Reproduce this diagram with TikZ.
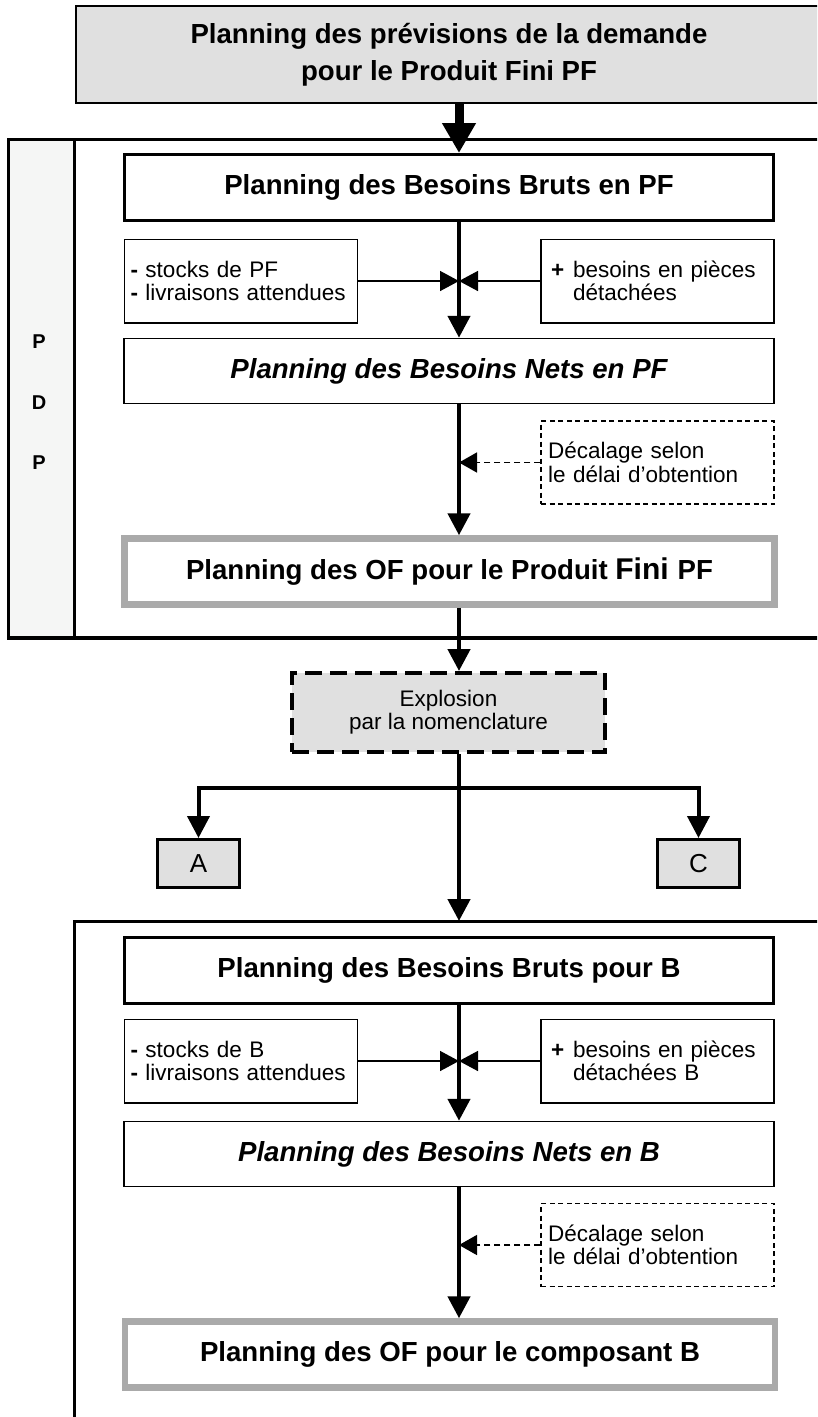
\documentclass[tikz,border=0pt]{standalone}
\usepackage{fontspec}
\setmainfont{Liberation Sans}
\usetikzlibrary{arrows.meta}
\definecolor{boxgray}{HTML}{E0E0E0}
\definecolor{ofgray}{HTML}{AAAAAA}
\definecolor{stripgray}{HTML}{F5F6F5}
\newcommand{\headfont}{\fontsize{27.6}{33}\selectfont\bfseries}
\newcommand{\notefont}{\fontsize{22.5}{23.5}\selectfont}

\begin{document}
\begin{tikzpicture}[x=1pt,y=-1pt,
  stagebox/.style={draw, line width=3pt, minimum width=649pt, minimum height=66pt,
    inner sep=0pt, font=\headfont},
  netbox/.style={draw, line width=1.5pt, minimum width=650pt, minimum height=65pt,
    inner sep=0pt, font=\headfont\itshape},
  ofbox/.style={draw=ofgray, line width=6.5pt, minimum width=650pt, minimum height=66pt,
    inner sep=0pt, font=\headfont},
  notebox/.style={draw, line width=1.5pt, minimum height=83.5pt, align=left,
    font=\notefont, inner ysep=0pt},
  delaybox/.style={draw, line width=1.5pt, dash pattern=on 5pt off 3.5pt,
    minimum height=83pt, align=left, font=\notefont, inner ysep=0pt,
    inner xsep=7pt, text width=219pt},
  letterbox/.style={draw, line width=3pt, fill=boxgray, minimum width=82pt,
    minimum height=48pt, inner sep=0pt, font=\fontsize{26}{26}\selectfont},
  flow/.style={line width=4.5pt, -{Triangle[length=22pt,width=22pt]}},
  bigflow/.style={line width=9pt, -{Triangle[length=30pt,width=32pt]}},
  side/.style={line width=1.5pt, -{Triangle[length=19pt,width=20pt]}},
  dside/.style={line width=1.5pt, dash pattern=on 6pt off 4pt,
    -{Triangle[length=18pt,width=20pt]}},
]
\useasboundingbox (0,0) rectangle (817,1417);
\clip (0,0) rectangle (817,1417);

% main vertical axis of the flow
\coordinate (spine) at (459,0);

% demand forecast
\node[draw, line width=2pt, fill=boxgray, minimum width=746pt, minimum height=97pt,
  inner sep=0pt, align=center, font=\fontsize{27.6}{37}\selectfont\bfseries]
  (demand) at (449,54.5) {Planning des prévisions de la demande\\pour le Produit Fini PF};

% PDP frame
\fill[stripgray] (8.5,139.5) rectangle (74,637);
\draw[line width=3pt] (900,139.5) -- (8.5,139.5) -- (8.5,637.5);
\draw[line width=4pt] (7,637.5) -- (900,637.5);
\draw[line width=3pt] (74,139.5) -- (74,637.5);
\node[font=\fontsize{20}{20}\selectfont\bfseries] (p1) at (39,342) {P};
\node[font=\fontsize{20}{20}\selectfont\bfseries] (d1) at (39,403) {D};
\node[font=\fontsize{20}{20}\selectfont\bfseries] (p2) at (39,463) {P};

% finished product
\node[stagebox] (bb1) at (449,187.5) {Planning des Besoins Bruts en PF};
\node[notebox, inner xsep=6pt, text width=221pt] (minus1) at (241,281)
  {\textbf{-} stocks de PF\\\textbf{-} livraisons attendues};
\node[notebox, inner xsep=10pt, text width=213pt] (plus1) at (657.5,281)
  {\makebox[22pt][l]{\textbf{+}}besoins en pièces\\\hspace*{22pt}détachées};
\coordinate (meet1) at (459,281);
\node[netbox] (bn1) at (449,371) {Planning des Besoins Nets en PF};
\node[delaybox] (delay1) at (657.5,462.5) {Décalage selon\\le délai d’obtention};
\node[ofbox] (of1) at (449.5,571.5)
  {Planning des OF pour le Produit {\fontsize{30}{30}\selectfont Fini}\hspace{9pt}PF};

% explosion
\node[draw, line width=4pt, dash pattern=on 17pt off 8pt, fill=boxgray,
  minimum width=313pt, minimum height=79pt, inner sep=0pt, align=center,
  font=\fontsize{22.5}{23}\selectfont] (expl) at (448.5,712.5)
  {Explosion\\par la nomenclature};
\coordinate (fork) at (459,788);
\node[letterbox] (A) at (198.5,863.5) {A};
\node[letterbox] (C) at (698.5,863.5) {C};

% component B frame
\coordinate (btop) at (459,921);
\draw[line width=3pt] (74,1430) -- (74,921) -- (900,921);

\node[stagebox] (bb2) at (449,970.5) {Planning des Besoins Bruts pour B};
\node[notebox, inner xsep=6pt, text width=221pt] (minus2) at (241,1061)
  {\textbf{-} stocks de B\\\textbf{-} livraisons attendues};
\node[notebox, inner xsep=10pt, text width=213pt] (plus2) at (657.5,1061)
  {\makebox[22pt][l]{\textbf{+}}besoins en pièces\\\hspace*{22pt}détachées B};
\coordinate (meet2) at (459,1061);
\node[netbox] (bn2) at (449,1154) {Planning des Besoins Nets en B};
\node[delaybox] (delay2) at (657.5,1245) {Décalage selon\\le délai d’obtention};
\node[ofbox] (of2) at (450,1354.5) {Planning des OF pour le composant B};

% connectors
\draw[bigflow] (demand.south -| spine) -- (bb1.north -| spine);
\draw[line width=4.5pt] (bb1.south -| spine) -- (meet1);
\draw[flow] (meet1) -- (bn1.north -| spine);
\draw[side] (minus1.east) -- (meet1);
\draw[side] (plus1.west) -- (meet1);
\draw[flow] (bn1.south -| spine) -- (of1.north -| spine);
\draw[dside] (delay1.west) -- (delay1.west -| spine);
\draw[flow] (of1.south -| spine) -- (expl.north -| spine);

\draw[flow] (expl.south -| spine) -- (btop);
\draw[flow, line width=4pt] (fork) -| (A.north);
\draw[flow, line width=4pt] (fork) -| (C.north);

\draw[line width=4.5pt] (bb2.south -| spine) -- (meet2);
\draw[flow] (meet2) -- (bn2.north -| spine);
\draw[side] (minus2.east) -- (meet2);
\draw[side] (plus2.west) -- (meet2);
\draw[flow] (bn2.south -| spine) -- (of2.north -| spine);
\draw[dside] (delay2.west) -- (delay2.west -| spine);
\end{tikzpicture}
\end{document}
